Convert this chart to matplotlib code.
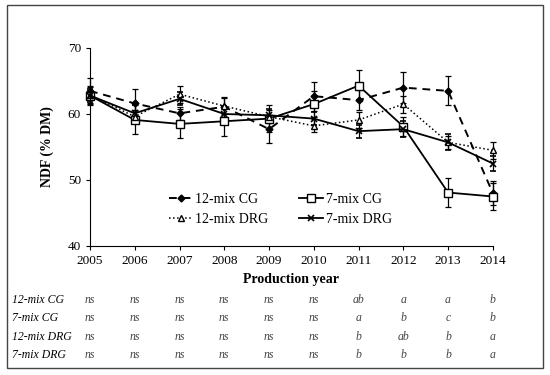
import numpy as np
import matplotlib.pyplot as plt
from matplotlib.patches import Rectangle
from matplotlib.transforms import blended_transform_factory

plt.rcParams['font.family'] = ['Liberation Serif', 'DejaVu Serif']

anios = [2005, 2006, 2007, 2008, 2009, 2010, 2011, 2012, 2013, 2014]

cg12 = [63.5, 61.6, 60.1, 61.1, 57.7, 62.7, 62.1, 64.0, 63.5, 48.0]
cg12_err = [2.0, 2.2, 1.0, 1.5, 2.1, 2.2, 1.5, 2.3, 2.2, 1.8]
cg7 = [62.8, 59.1, 58.5, 58.9, 59.3, 61.5, 64.3, 58.1, 48.1, 47.5]
cg7_err = [1.5, 2.2, 2.2, 2.2, 2.0, 2.0, 2.3, 1.5, 2.2, 2.0]
drg12 = [62.9, 59.6, 63.0, 61.2, 59.6, 58.2, 59.1, 61.5, 55.7, 54.5]
drg12_err = [1.2, 1.0, 1.3, 1.2, 1.0, 1.0, 1.2, 1.3, 1.0, 1.3]
drg7 = [62.8, 60.1, 62.3, 60.0, 59.8, 59.3, 57.4, 57.7, 55.7, 52.5]
drg7_err = [1.0, 1.2, 1.0, 1.2, 1.0, 1.0, 1.0, 1.2, 1.2, 1.2]

nombres = ["12-mix CG", "7-mix CG", "12-mix DRG", "7-mix DRG"]
letras = [
    ["ns", "ns", "ns", "ns", "ns", "ns", "ab", "a", "a", "b"],
    ["ns", "ns", "ns", "ns", "ns", "ns", "a", "b", "c", "b"],
    ["ns", "ns", "ns", "ns", "ns", "ns", "b", "ab", "b", "a"],
    ["ns", "ns", "ns", "ns", "ns", "ns", "b", "b", "b", "a"],
]

fig = plt.figure(figsize=(5.5, 3.75), dpi=100)
ax = fig.add_axes([0.1636, 0.344, 0.7325, 0.528])

kw = dict(color="black", ecolor="black", elinewidth=0.9, capsize=2.5,
          capthick=0.9, clip_on=False)
e1 = ax.errorbar(anios, cg12, yerr=cg12_err, ls=(0, (4, 3)), lw=1.4, marker="D",
                 ms=3.5, mfc="black", label="12-mix CG", **kw)
e2 = ax.errorbar(anios, cg7, yerr=cg7_err, ls="-", lw=1.3, marker="s",
                 ms=5.5, mfc="white", label="7-mix CG", **kw)
e3 = ax.errorbar(anios, drg12, yerr=drg12_err, ls=":", lw=1.1, marker="^",
                 ms=4.5, mfc="white", label="12-mix DRG", **kw)
e4 = ax.errorbar(anios, drg7, yerr=drg7_err, ls="-", lw=1.3, marker="x",
                 ms=4.5, mew=1.2, label="7-mix DRG", **kw)

ax.set_xlim(2005, 2014)
ax.set_ylim(40, 70)
ax.set_xticks(anios)
ax.set_yticks([40, 50, 60, 70])
ax.spines["top"].set_visible(False)
ax.spines["right"].set_visible(False)
ax.tick_params(direction="out", length=3, labelsize=9.5)
ax.set_xlabel("Production year", fontweight="bold", fontsize=10, labelpad=4)
ax.set_ylabel("NDF (% DM)", fontweight="bold", fontsize=10, labelpad=10)

# orden por columnas para que quede como el original
handles = [e1.lines[0], e3.lines[0], e2.lines[0], e4.lines[0]]
etiquetas = ["12-mix CG", "12-mix DRG", "7-mix CG", "7-mix DRG"]
ax.legend(handles, etiquetas, loc="lower left", bbox_to_anchor=(0.165, 0.04),
          ncol=2, frameon=False, fontsize=10, handlelength=1.7,
          handletextpad=0.2, columnspacing=2.2, labelspacing=0.45)

# tabla de letras
trans = blended_transform_factory(ax.transData, fig.transFigure)
filas_y = [300, 318, 337, 355]
for i in range(len(nombres)):
    yf = 1 - filas_y[i] / 375.0
    fig.text(12 / 550.0, yf, nombres[i], style="italic", fontsize=8.5,
             va="center", ha="left")
    for j in range(len(anios)):
        ax.text(anios[j], yf, letras[i][j], transform=trans, style="italic",
                fontsize=8.5, va="center", ha="center", color="#444444")

fig.patches.append(Rectangle((7 / 550.0, 1 - 368 / 375.0), 536 / 550.0,
                             363 / 375.0, transform=fig.transFigure,
                             fill=False, edgecolor="#444444", lw=1.0))

fig.savefig("out.png", dpi=100)
